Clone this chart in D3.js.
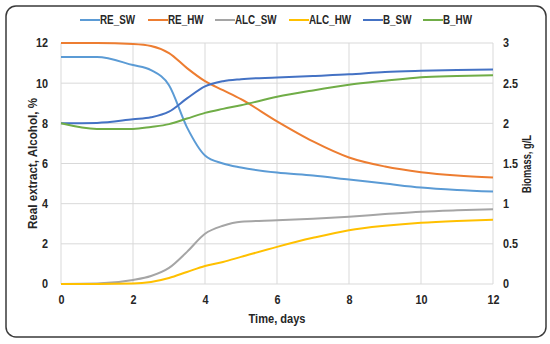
<!DOCTYPE html>
<html>
<head>
<meta charset="utf-8">
<script src="https://cdn.jsdelivr.net/npm/d3@7"></script>
<style>
  body { margin: 0; background: #fff; }
  svg text { font-family: "Liberation Sans", Arial, sans-serif; font-weight: bold; fill: #262626; }
</style>
</head>
<body>
<div id="chart"></div>
<script>
// time, days
const days = [0, 1, 2, 2.5, 3, 3.5, 4, 4.5, 5, 6, 7, 8, 9, 10, 11, 12];

// left axis (%)
const reSW = [11.3, 11.3, 10.9, 10.65, 9.9, 7.8, 6.4, 6.0, 5.8, 5.55, 5.4, 5.2, 5.0, 4.8, 4.68, 4.6];
const reHW = [12, 12, 11.95, 11.85, 11.5, 10.75, 10.1, 9.65, 9.2, 8.1, 7.1, 6.3, 5.85, 5.57, 5.4, 5.3];
const alcSW = [0, 0.02, 0.2, 0.4, 0.8, 1.6, 2.5, 2.9, 3.1, 3.17, 3.25, 3.35, 3.48, 3.6, 3.67, 3.72];
const alcHW = [0, 0, 0.02, 0.1, 0.3, 0.6, 0.9, 1.1, 1.35, 1.85, 2.3, 2.68, 2.9, 3.05, 3.14, 3.2];

// right axis, biomass g/L
const bSW = [2, 2.005, 2.05, 2.075, 2.145, 2.31, 2.46, 2.525, 2.55, 2.57, 2.59, 2.61, 2.64, 2.655, 2.665, 2.67];
const bHW = [2, 1.93, 1.93, 1.955, 1.99, 2.06, 2.13, 2.18, 2.225, 2.33, 2.41, 2.48, 2.53, 2.575, 2.59, 2.6];

const names = ['RE_SW', 'RE_HW', 'ALC_SW', 'ALC_HW', 'B_SW', 'B_HW'];
const colors = ['#5B9BD5', '#ED7D31', '#A5A5A5', '#FFC000', '#4472C4', '#70AD47'];
const xTicks = [0, 2, 4, 6, 8, 10, 12];
const yTicks = [0, 2, 4, 6, 8, 10, 12];
const y2Ticks = [0, 0.5, 1, 1.5, 2, 2.5, 3];

const series = [
    {name: names[0], values: reSW, axis: 'left'},
    {name: names[1], values: reHW, axis: 'left'},
    {name: names[2], values: alcSW, axis: 'left'},
    {name: names[3], values: alcHW, axis: 'left'},
    {name: names[4], values: bSW, axis: 'right'},
    {name: names[5], values: bHW, axis: 'right'}
];

// squeeze text to look like the narrow font of the original
function condense(sel, k) {
    sel.each(function() {
        const w = this.getComputedTextLength();
        d3.select(this)
            .attr('textLength', w * k)
            .attr('lengthAdjust', 'spacingAndGlyphs');
    });
}

const width = 550, height = 344;
const svg = d3.select('#chart').append('svg')
    .attr('width', width)
    .attr('height', height);

// frame
svg.append('rect')
    .attr('x', 6).attr('y', 6)
    .attr('width', 540).attr('height', 331)
    .attr('rx', 10)
    .attr('fill', '#fff')
    .attr('stroke', '#3a3a3a')
    .attr('stroke-width', 1.5);

const x = d3.scaleLinear().domain([0, 12]).range([61, 493]);
const y = d3.scaleLinear().domain([0, 12]).range([284, 43]);
const y2 = d3.scaleLinear().domain([0, 3]).range([284, 43]);

// grid
svg.append('g')
    .selectAll('line')
    .data(yTicks)
    .enter()
    .append('line')
    .attr('x1', x(0)).attr('x2', x(12))
    .attr('y1', d => y(d)).attr('y2', d => y(d))
    .attr('stroke', '#D9D9D9').attr('stroke-width', 1);

svg.append('g')
    .selectAll('line')
    .data(xTicks)
    .enter()
    .append('line')
    .attr('x1', d => x(d)).attr('x2', d => x(d))
    .attr('y1', y(0)).attr('y2', y(12))
    .attr('stroke', '#D9D9D9').attr('stroke-width', 1);

// axes (labels only)
const xAxis = svg.append('g')
    .attr('transform', `translate(0, ${y(0)})`)
    .call(d3.axisBottom(x).tickValues(xTicks).tickSize(0).tickPadding(11));
const yAxis = svg.append('g')
    .attr('transform', `translate(${x(0)}, 0)`)
    .call(d3.axisLeft(y).tickValues(yTicks).tickSize(0).tickPadding(13));
const y2Axis = svg.append('g')
    .attr('transform', `translate(${x(12)}, 0)`)
    .call(d3.axisRight(y2).tickValues(y2Ticks).tickFormat(d3.format('~g')).tickSize(0).tickPadding(10));

[xAxis, yAxis, y2Axis].forEach(a => {
    a.select('.domain').remove();
    a.selectAll('text').attr('font-size', 12).attr('font-family', null).call(condense, 0.9);
});

// lines
const line = d3.line().curve(d3.curveMonotoneX);
svg.append('g')
    .selectAll('path')
    .data(series)
    .enter()
    .append('path')
    .attr('fill', 'none')
    .attr('stroke', (d, i) => colors[i])
    .attr('stroke-width', 2)
    .attr('d', d => {
        const sc = d.axis === 'left' ? y : y2;
        return line(days.map((t, i) => [x(t), sc(d.values[i])]));
    });

// axis titles
svg.append('text')
    .attr('transform', `translate(37, ${(y(0) + y(12)) / 2}) rotate(-90)`)
    .attr('text-anchor', 'middle')
    .attr('font-size', 13)
    .text('Real extract, Alcohol, %')
    .attr('textLength', 131)
    .attr('lengthAdjust', 'spacingAndGlyphs');

svg.append('text')
    .attr('transform', `translate(531, 164) rotate(-90)`)
    .attr('text-anchor', 'middle')
    .attr('font-size', 12)
    .text('Biomass, g/L')
    .attr('textLength', 58)
    .attr('lengthAdjust', 'spacingAndGlyphs');

svg.append('text')
    .attr('x', (x(0) + x(12)) / 2)
    .attr('y', 323)
    .attr('text-anchor', 'middle')
    .attr('font-size', 13)
    .text('Time, days')
    .attr('textLength', 57)
    .attr('lengthAdjust', 'spacingAndGlyphs');

// legend
const legendX = [80, 148, 215, 289, 363, 423];
const legend = svg.append('g')
    .selectAll('g')
    .data(names)
    .enter()
    .append('g')
    .attr('transform', (d, i) => `translate(${legendX[i]}, 20)`);
legend.append('line')
    .attr('x1', 0).attr('x2', 20)
    .attr('stroke', (d, i) => colors[i])
    .attr('stroke-width', 2);
legend.append('text')
    .attr('x', 20)
    .attr('dy', '0.35em')
    .attr('font-size', 12)
    .text(d => d)
    .call(condense, 0.82);
</script>
</body>
</html>
